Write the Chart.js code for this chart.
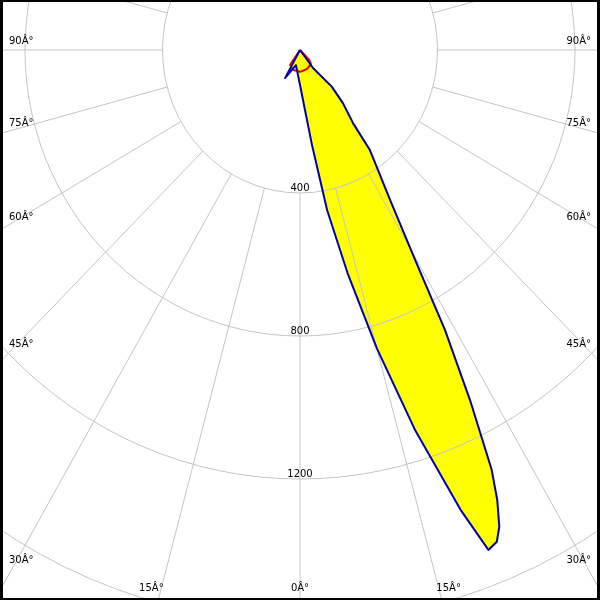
<!DOCTYPE html>
<html>
<head>
<meta charset="utf-8">
<script src="https://cdn.jsdelivr.net/npm/chart.js@4"></script>
<style>
  html, body { margin: 0; padding: 0; background: #fff; }
  canvas { display: block; }
</style>
</head>
<body>
<canvas id="polar" width="600" height="600"></canvas>
<script>
// C0-C180 plane (blue), angle in degrees from nadir, value in cd
const blueAngles = [-30, -29, -15.5, 0, 5, 7.5, 10, 12.5, 15, 17.5, 20, 21.4, 22.6, 23.5, 24.5, 25.4, 26.8, 28.3, 29.7, 32, 36, 37, 40, 42, 37, 40];
const blueValues = [0, 90, 44, 98, 170, 269, 455, 639, 864, 1117, 1372, 1502, 1490, 1454, 1384, 1300, 1097, 890, 676, 495, 346, 257, 195, 138, 64, 0];

// C90-C270 plane (red)
const redAngles = [-35, -34.7, -19.2, 0, 20.2, 38.7, 44, 45];
const redValues = [0, 51, 59, 61, 57, 51, 39, 0];

// grid
const ringValues = [400, 800, 1200, 1600];
const ringLabels = ['400', '800', '1200'];
const spokeAngles = [-90, -75, -60, -45, -30, -15, 0, 15, 30, 45, 60, 75, 90];
const spokeLabels = ['90Â°', '75Â°', '60Â°', '45Â°', '30Â°', '15Â°', '0Â°', '15Â°', '30Â°', '45Â°', '60Â°', '75Â°', '90Â°'];

function toXY(angles, values) {
  return angles.map((a, i) => {
    const rad = a * Math.PI / 180;
    return { x: values[i] * Math.sin(rad), y: -values[i] * Math.cos(rad) };
  });
}

const gridPlugin = {
  id: 'polarGrid',
  beforeDatasetsDraw(chart) {
    const ctx = chart.ctx;
    const sx = chart.scales.x, sy = chart.scales.y;
    const cx = sx.getPixelForValue(0), cy = sy.getPixelForValue(0);
    const px = (deg, r) => {
      const a = deg * Math.PI / 180;
      return [sx.getPixelForValue(r * Math.sin(a)), sy.getPixelForValue(-r * Math.cos(a))];
    };
    ctx.save();
    ctx.strokeStyle = '#c4c4c4';
    ctx.lineWidth = 1;
    ringValues.forEach(r => {
      const rx = sx.getPixelForValue(r) - cx;
      const ry = sy.getPixelForValue(-r) - cy;
      ctx.beginPath();
      ctx.ellipse(cx, cy, rx, ry, 0, 0, Math.PI * 2);
      ctx.stroke();
    });
    for (let d = 0; d < 360; d += 15) {
      const a = px(d, ringValues[0]);
      const b = px(d, 5000);
      ctx.beginPath();
      ctx.moveTo(a[0], a[1]);
      ctx.lineTo(b[0], b[1]);
      ctx.stroke();
    }
    ctx.restore();
  },
  afterDatasetsDraw(chart) {
    const ctx = chart.ctx;
    const sx = chart.scales.x, sy = chart.scales.y;
    const area = chart.chartArea;
    const cx = sx.getPixelForValue(0), cy = sy.getPixelForValue(0);
    ctx.save();
    ctx.fillStyle = '#000';
    ctx.font = "10px 'DejaVu Sans'";

    // ring values
    ctx.textAlign = 'center';
    ctx.textBaseline = 'alphabetic';
    ringLabels.forEach((t, i) => {
      ctx.fillText(t, cx, sy.getPixelForValue(-ringValues[i]) - 2);
    });

    // angle labels at the frame
    const bottomY = area.bottom - 12;
    const leftX = area.left + 21, rightX = area.right - 21;
    spokeAngles.forEach((deg, i) => {
      const a = deg * Math.PI / 180;
      const dx = sx.getPixelForValue(1000 * Math.sin(a)) - cx;
      const dy = sy.getPixelForValue(-1000 * Math.cos(a)) - cy;
      const tb = dy > 0 ? (bottomY - cy) / dy : Infinity;
      const xb = cx + tb * dx;
      if (tb !== Infinity && xb >= leftX && xb <= rightX) {
        ctx.textAlign = 'center';
        ctx.textBaseline = 'middle';
        ctx.fillText(spokeLabels[i], xb + Math.sign(deg) * 10, bottomY);
      } else {
        const edge = deg < 0 ? leftX : rightX;
        const ts = (edge - cx) / dx;
        const ys = cy + ts * dy + (60 - Math.abs(deg)) * 0.27;
        ctx.textBaseline = 'middle';
        if (deg < 0) {
          ctx.textAlign = 'left';
          ctx.fillText(spokeLabels[i], area.left + 9, ys);
        } else {
          ctx.textAlign = 'right';
          ctx.fillText(spokeLabels[i], area.right - 9, ys);
        }
      }
    });
    ctx.restore();
  },
  afterDraw(chart) {
    const ctx = chart.ctx;
    const w = chart.width, h = chart.height;
    ctx.save();
    ctx.fillStyle = '#000';
    ctx.fillRect(0, 0, w, 2);
    ctx.fillRect(0, h - 2, w, 2);
    ctx.fillRect(0, 0, 3, h);
    ctx.fillRect(w - 3, 0, 3, h);
    ctx.restore();
  }
};

const ctx = document.getElementById('polar').getContext('2d');
const chart = new Chart(ctx, {
  type: 'scatter',
  data: {
    datasets: [
      {
        label: 'C0-C180',
        data: toXY(blueAngles, blueValues),
        showLine: true,
        borderColor: '#0000a8',
        borderWidth: 2,
        borderJoinStyle: 'round',
        backgroundColor: '#ffff00',
        fill: 'shape',
        pointRadius: 0,
        tension: 0
      },
      {
        label: 'C90-C270',
        data: toXY(redAngles, redValues),
        showLine: true,
        borderColor: '#e80000',
        borderWidth: 2,
        borderJoinStyle: 'round',
        fill: false,
        pointRadius: 0,
        tension: 0
      }
    ]
  },
  options: {
    responsive: false,
    animation: false,
    devicePixelRatio: 1,
    layout: { padding: 0 },
    scales: {
      // 137.5 px per 400 cd across, 143 px per 400 cd down
      x: { display: false, min: -300 * 400 / 137.5, max: 300 * 400 / 137.5 },
      y: { display: false, min: -550 * 400 / 143, max: 50 * 400 / 143 }
    },
    plugins: {
      legend: { display: false },
      tooltip: { enabled: false },
      filler: { drawTime: 'beforeDatasetsDraw' }
    }
  },
  plugins: [gridPlugin]
});
</script>
</body>
</html>
